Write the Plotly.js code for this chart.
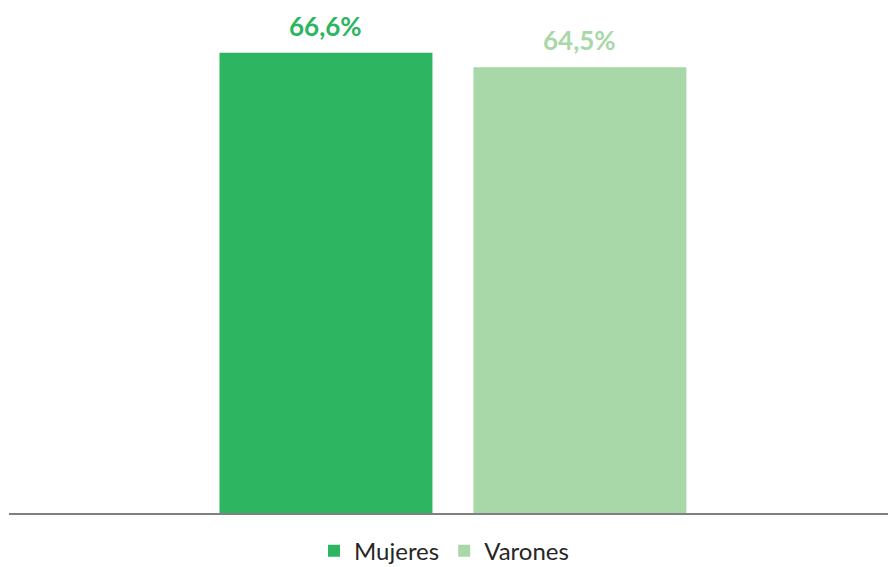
<!DOCTYPE html>
<html>
<head>
<meta charset="utf-8">
<script src="https://cdn.plot.ly/plotly-3.0.1.min.js"></script>
<style>html,body{margin:0;padding:0;background:#fff;}#chart{width:888px;height:567px;}</style>
</head>
<body>
<div id="chart"></div>
<script>
const seriesNames = ["Mujeres", "Varones"];
const mujeres = [66.6];
const varones = [64.5];
const colors = ["#2DB562", "#A9D8A8"];

function fmt(v){ return v.toFixed(1).replace(".", ",") + "%"; }

const seriesVals = [mujeres, varones];
const FONT = "Lato, 'Open Sans', sans-serif";

const data = seriesVals.map((vals, i) => ({
  type: "bar",
  name: seriesNames[i],
  x: [seriesNames[i]],
  y: vals,
  width: 0.8386,
  marker: {color: colors[i]},
  hoverinfo: "none"
}));

const annotations = [];
seriesVals.forEach((vals, i) => {
  vals.forEach(v => annotations.push({
    x: seriesNames[i], y: v, xref: "x", yref: "y",
    text: "<b>" + fmt(v) + "</b>", showarrow: false,
    yanchor: "middle", yshift: 27,
    font: {family: FONT, size: 26, color: colors[i]}
  }));
});

const layout = {
  width: 888, height: 567,
  margin: {l: 9, r: 0, t: 10, b: 54},
  paper_bgcolor: "#fff", plot_bgcolor: "#fff",
  barmode: "overlay",
  showlegend: true,
  legend: {orientation: "h", x: 0.5, xanchor: "center", xref: "container",
           y: 0.028, yanchor: "middle", yref: "container",
           font: {family: FONT, size: 24, color: "#262626"},
           itemwidth: 30, traceorder: "normal"},
  annotations: annotations,
  xaxis: {type: "category", range: [-1.248, 2.213], showline: true, linecolor: "#808080", linewidth: 1.5,
          showticklabels: false, ticks: "", showgrid: false, zeroline: false, fixedrange: true},
  yaxis: {range: [0, 72.8], visible: false, showgrid: false, zeroline: false, fixedrange: true}
};

Plotly.newPlot("chart", data, layout, {displayModeBar: false, staticPlot: true});
</script>
</body>
</html>
